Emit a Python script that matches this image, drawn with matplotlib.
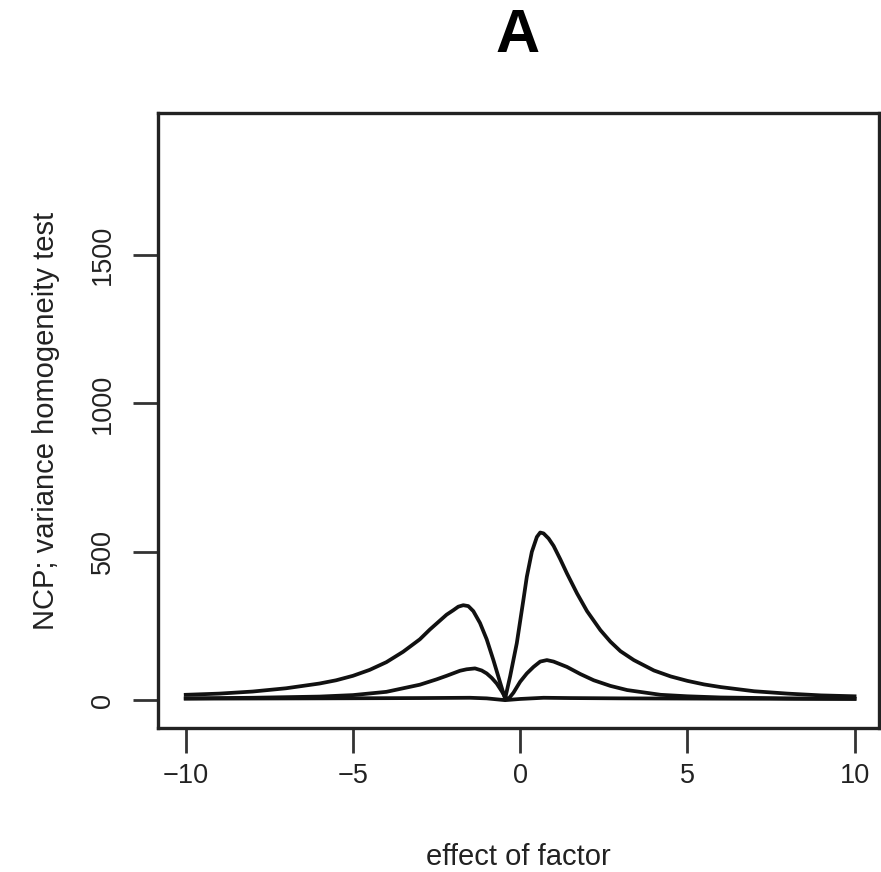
import matplotlib.pyplot as plt

plt.rcParams['font.family'] = ['Liberation Sans', 'DejaVu Sans']

# values
x_top = [-10, -9, -8, -7, -6, -5.5, -5, -4.5, -4, -3.5, -3, -2.7, -2.4, -2.2, -2.0, -1.85,
         -1.7, -1.55, -1.4, -1.2, -1.0, -0.8, -0.6, -0.45, -0.3, -0.1, 0.1, 0.2,
         0.35, 0.5, 0.6, 0.7, 0.85, 1.0, 1.2, 1.4, 1.7, 2.0, 2.4, 2.7, 3.0, 3.4,
         4, 4.5, 5, 5.5, 6, 7, 8, 9, 10]
ncp_top = [18, 22, 29, 40, 56, 67, 82, 102, 128, 163, 205, 238, 268, 288, 303, 315,
           320, 317, 300, 260, 205, 135, 60, 5, 80, 192, 340, 416,
           500, 550, 565, 562, 545, 520, 475, 427, 360, 300, 236, 197, 165, 135,
           100, 80, 65, 53, 44, 30, 22, 16, 13]

x_mid = [-10, -8, -6, -5, -4, -3, -2.5, -2.2, -1.8, -1.6, -1.35, -1.15, -1.0,
         -0.85, -0.7, -0.55, -0.45, -0.35, -0.2, 0.0, 0.2, 0.4, 0.6, 0.8, 1.0,
         1.2, 1.4, 1.8, 2.2, 2.7, 3.2, 4.2, 5, 6, 8, 10]
ncp_mid = [6, 8, 12, 17, 28, 52, 70, 82, 99, 104, 107, 100, 90,
           75, 56, 30, 10, 4, 25, 62, 90, 112, 130, 135, 130,
           121, 112, 88, 67, 48, 34, 18, 13, 9, 6, 5]

x_low = [-10, -6, -3, -1.5, -1.0, -0.45, 0.0, 0.7, 1.5, 3, 6, 10]
ncp_low = [5, 6, 7, 8, 6, 0, 4, 8, 7, 6, 5, 4]

xticks = [-10, -5, 0, 5, 10]
yticks = [0, 500, 1000, 1500]

fig = plt.figure(figsize=(8.81, 8.72), dpi=100)
ax = fig.add_axes([0.1793, 0.1651, 0.8184, 0.7053])

for xs, ys in [(x_top, ncp_top), (x_mid, ncp_mid), (x_low, ncp_low)]:
    ax.plot(xs, ys, color='#111111', lw=2.7, solid_joinstyle='round')

ax.set_xlim(-10.83, 10.73)
ax.set_ylim(-94, 1979)
ax.set_xticks(xticks)
ax.set_yticks(yticks)
ax.set_xticklabels(['\u221210', '\u22125', '0', '5', '10'])
ax.set_yticklabels([str(v) for v in yticks], rotation=90, va='center')

for s in ax.spines.values():
    s.set_linewidth(2.4)
    s.set_color('#222222')
ax.tick_params(axis='both', length=18, width=2.0, labelsize=19.5, color='#333333',
               labelcolor='#222222')
ax.tick_params(axis='x', pad=7)
ax.tick_params(axis='y', pad=12)

ax.set_xlabel('effect of factor', fontsize=21, va='center', color='#222222')
ax.xaxis.set_label_coords(0.5, -0.21)
ax.set_ylabel('NCP; variance homogeneity test', fontsize=21, va='center', color='#222222')
ax.yaxis.set_label_coords(-0.155, 0.5)

fig.text(0.588, 0.958, 'A', fontsize=44, fontweight='bold', ha='center', va='center')

fig.savefig('out.png', dpi=100)
